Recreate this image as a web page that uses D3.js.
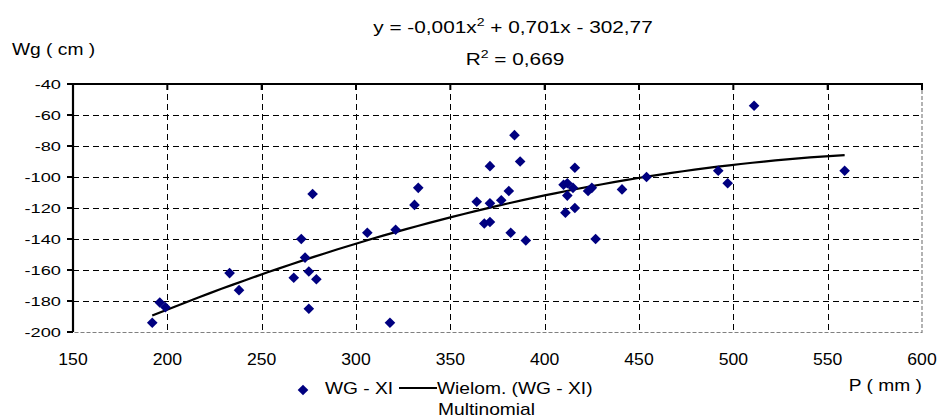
<!DOCTYPE html>
<html>
<head>
<meta charset="utf-8">
<script src="https://cdn.jsdelivr.net/npm/d3@7"></script>
<style>
  body { margin: 0; background: #fff; }
  svg { display: block; }
  text { font-family: "Liberation Sans", Arial, sans-serif; fill: #000; }
</style>
</head>
<body>
<div id="chart"></div>
<script>
// P (mm) vs Wg (cm), series "WG - XI"
const precip = [192, 196, 199, 233, 238, 267, 271, 273, 275, 279, 275, 277, 306, 318, 321,
                331, 333, 364, 371, 368, 371, 371, 377, 381, 382, 384, 387, 390, 410, 412,
                412, 415, 416, 411, 416, 423, 425, 427, 441, 454, 492, 497, 511, 559];
const wg     = [-194, -181, -184, -162, -173, -165, -140, -152, -161, -166, -185, -111, -136, -194, -134,
                -118, -107, -116, -117, -130, -129, -93, -115, -109, -136, -73, -90, -141, -105, -104,
                -112, -107, -94, -123, -120, -109, -107, -140, -108, -100, -96, -104, -54, -96];
const xTicks = [150, 200, 250, 300, 350, 400, 450, 500, 550, 600];
const yTicks = [-40, -60, -80, -100, -120, -140, -160, -180, -200];
const equationText = ["y = -0,001x", "2", " + 0,701x - 302,77"];
const r2Text = ["R", "2", " = 0,669"];

const W = 939, H = 419;
const margin = {left: 73, right: 17, top: 84, bottom: 87};

const svg = d3.select("#chart").append("svg")
  .attr("width", W)
  .attr("height", H);

const x = d3.scaleLinear().domain([150, 600]).range([margin.left, W - margin.right]);
const y = d3.scaleLinear().domain([-200, -40]).range([H - margin.bottom, margin.top]);

// text squeezed like the original export (glyphs are a bit wider than tall)
function label(str, px, py, size, sx, anchor) {
  return svg.append("text")
    .attr("transform", "translate(" + px + "," + py + ") scale(" + sx + ",1)")
    .attr("font-size", size)
    .attr("text-anchor", anchor || "start")
    .text(str);
}

function supLabel(parts, px, py, size, sx) {
  let t = svg.append("text")
    .attr("transform", "translate(" + px + "," + py + ") scale(" + sx + ",1)")
    .attr("font-size", size)
    .attr("text-anchor", "middle");
  t.append("tspan").text(parts[0]);
  t.append("tspan").attr("font-size", size * 0.68).attr("dy", -7).text(parts[1]);
  t.append("tspan").attr("dy", 7).text(parts[2]);
  return t;
}

// grid
let grid = svg.append("g").attr("stroke", "#000").attr("stroke-width", 1).attr("stroke-dasharray", "6,4");

grid.selectAll("line.h")
  .data(yTicks.filter(d => d > -200 && d < -40))
  .join("line")
  .attr("class", "h")
  .attr("x1", x(150)).attr("x2", x(600))
  .attr("y1", d => Math.round(y(d)) + 0.5).attr("y2", d => Math.round(y(d)) + 0.5);

grid.selectAll("line.v")
  .data(xTicks.filter(d => d > 150 && d < 600))
  .join("line")
  .attr("class", "v")
  .attr("y1", y(-40)).attr("y2", y(-200))
  .attr("x1", d => Math.round(x(d)) + 0.5).attr("x2", d => Math.round(x(d)) + 0.5);

// plot area border (right / bottom) in grey dashes
svg.append("path")
  .attr("d", "M" + x(600) + "," + y(-40) + "V" + (Math.round(y(-200)) + 0.5) + "H" + x(150))
  .attr("fill", "none")
  .attr("stroke", "#808080")
  .attr("stroke-width", 1.2)
  .attr("stroke-dasharray", "4,2");

// axes: horizontal axis crosses at the top, labels sit low
svg.append("line")
  .attr("x1", x(150) - 1).attr("x2", x(600) + 1)
  .attr("y1", y(-40)).attr("y2", y(-40))
  .attr("stroke", "#000").attr("stroke-width", 2.2);

svg.selectAll("line.xtick")
  .data(xTicks)
  .join("line")
  .attr("class", "xtick")
  .attr("x1", d => x(d)).attr("x2", d => x(d))
  .attr("y1", y(-40)).attr("y2", y(-40) + 6)
  .attr("stroke", "#000").attr("stroke-width", 2);

svg.append("line")
  .attr("x1", x(150)).attr("x2", x(150))
  .attr("y1", y(-40)).attr("y2", y(-200))
  .attr("stroke", "#000").attr("stroke-width", 2.2);

svg.selectAll("line.ytick")
  .data(yTicks)
  .join("line")
  .attr("class", "ytick")
  .attr("x1", x(150) - 6).attr("x2", x(150))
  .attr("y1", d => y(d)).attr("y2", d => y(d))
  .attr("stroke", "#000").attr("stroke-width", 2);

xTicks.forEach(d => label(d, x(d), 365, 16, 1.1, "middle"));
yTicks.forEach(d => label(d, 61, y(d) + 5, 13.5, 1.35, "end"));

// quadratic least-squares trend line, as the spreadsheet fitted it
function fitQuadratic(xs, ys) {
  let n = xs.length, s = [0, 0, 0, 0, 0], t = [0, 0, 0];
  for (let i = 0; i < n; i++) {
    let xi = xs[i];
    for (let k = 0; k < 5; k++) s[k] += Math.pow(xi, k);
    for (let k = 0; k < 3; k++) t[k] += ys[i] * Math.pow(xi, k);
  }
  let m = [[s[0], s[1], s[2], t[0]], [s[1], s[2], s[3], t[1]], [s[2], s[3], s[4], t[2]]];
  for (let c = 0; c < 3; c++) {
    for (let r = c + 1; r < 3; r++) {
      let f = m[r][c] / m[c][c];
      for (let k = c; k < 4; k++) m[r][k] -= f * m[c][k];
    }
  }
  let coef = [0, 0, 0];
  for (let r = 2; r >= 0; r--) {
    let v = m[r][3];
    for (let k = r + 1; k < 3; k++) v -= m[r][k] * coef[k];
    coef[r] = v / m[r][r];
  }
  return coef; // c0 + c1 x + c2 x^2
}

let coef = fitQuadratic(precip, wg),
    xmin = d3.min(precip),
    xmax = d3.max(precip),
    trend = d3.range(0, 61).map(i => {
      let xv = xmin + (xmax - xmin) * i / 60;
      return [xv, coef[0] + coef[1] * xv + coef[2] * xv * xv];
    });

svg.append("path")
  .datum(trend)
  .attr("fill", "none")
  .attr("stroke", "#000")
  .attr("stroke-width", 2.2)
  .attr("d", d3.line().x(d => x(d[0])).y(d => y(d[1])));

// points
const diamond = d3.symbol().type(d3.symbolDiamond2).size(72);

svg.append("g")
  .selectAll("path")
  .data(precip.map((p, i) => [p, wg[i]]))
  .join("path")
  .attr("d", diamond)
  .attr("transform", d => "translate(" + x(d[0]) + "," + y(d[1]) + ")")
  .attr("fill", "#000080");

// titles
supLabel(equationText, 513, 33, 16, 1.3);
supLabel(r2Text, 515, 65, 16, 1.3);
label("Wg ( cm )", 12, 55, 16, 1.2);
label("P ( mm )", 922, 391, 16, 1.2, "end");

// legend
svg.append("path")
  .attr("d", diamond)
  .attr("transform", "translate(303,390)")
  .attr("fill", "#000080");
label("WG - XI", 325, 394, 16, 1.2);
svg.append("line")
  .attr("x1", 399).attr("x2", 437)
  .attr("y1", 388).attr("y2", 388)
  .attr("stroke", "#000").attr("stroke-width", 2.2);
label("Wielom. (WG - XI)", 437, 394, 16, 1.2);
label("Multinomial", 438, 415, 16, 1.2);
</script>
</body>
</html>
